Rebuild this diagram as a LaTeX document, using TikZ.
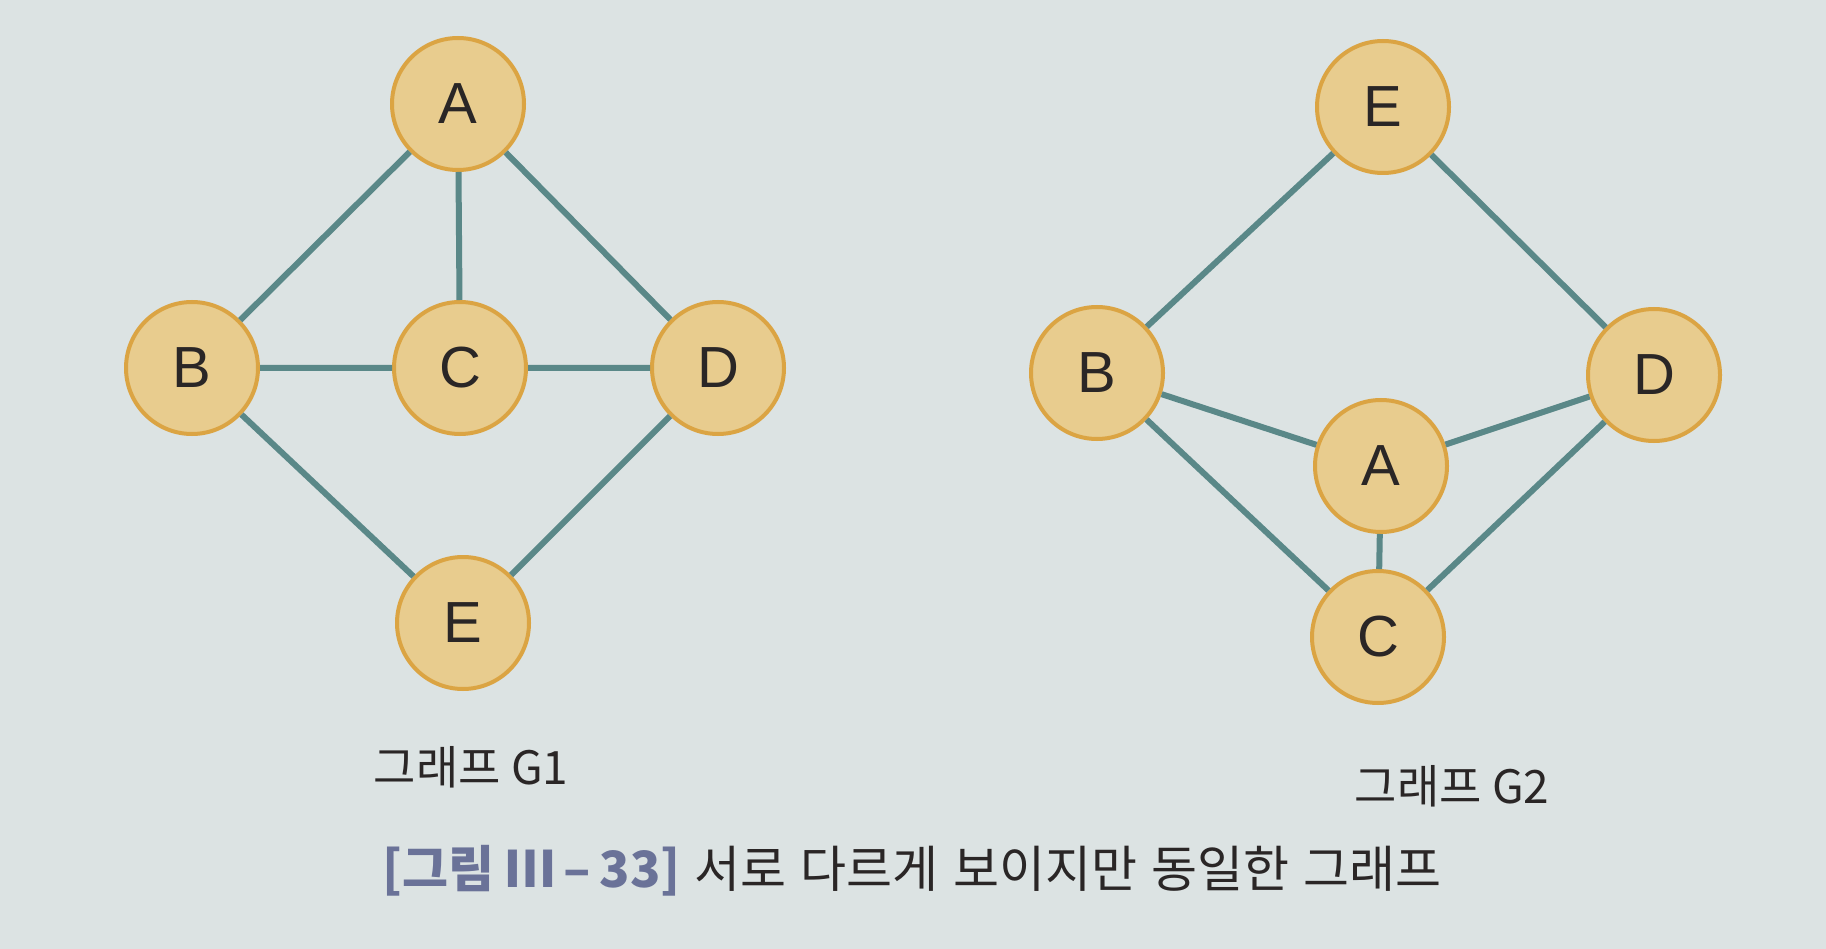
\documentclass[tikz,border=0pt]{standalone}
\usepackage{fontspec}
\setmainfont{Liberation Sans}
\newfontfamily\kr{Noto Sans CJK KR}
\definecolor{bgc}{HTML}{DCE3E3}
\definecolor{nodefill}{HTML}{E8CC8E}
\definecolor{nodeline}{HTML}{DBA443}
\definecolor{edgec}{HTML}{5A8888}
\definecolor{capc}{HTML}{6A7298}
\definecolor{txt}{HTML}{2A2626}
\begin{document}
\begin{tikzpicture}[x=1pt,y=-1pt,
  vtx/.style={circle,fill=nodefill,draw=nodeline,line width=4pt,minimum size=132pt,inner sep=0pt,font=\fontsize{58}{58}\selectfont,text=txt},
  edg/.style={draw=edgec,line width=6pt},
  lbl/.style={font=\kr\fontsize{46}{46}\selectfont,text=txt}]
\fill[bgc] (0,0) rectangle (1826,949);
\useasboundingbox (0,0) rectangle (1826,949);
% G1
\node[vtx] (a1) at (458,104) {A};
\node[vtx] (b1) at (192,368) {B};
\node[vtx] (c1) at (460,368) {C};
\node[vtx] (d1) at (718,368) {D};
\node[vtx] (e1) at (463,623) {E};
% G2
\node[vtx] (e2) at (1383,107) {E};
\node[vtx] (b2) at (1097,373) {B};
\node[vtx] (d2) at (1654,375) {D};
\node[vtx] (a2) at (1381,466) {A};
\node[vtx] (c2) at (1378,637) {C};
% edges G1
\path[edg] (a1) -- (b1) (a1) -- (c1) (a1) -- (d1) (b1) -- (c1) (c1) -- (d1) (b1) -- (e1) (d1) -- (e1);
% edges G2
\path[edg] (e2) -- (b2) (e2) -- (d2) (b2) -- (a2) (a2) -- (d2) (b2) -- (c2) (a2) -- (c2) (c2) -- (d2);
% labels
\node[lbl] (l1) at (471,767) {그래프 G1};
\node[lbl] (l2) at (1452,786) {그래프 G2};
\node[anchor=west,inner sep=0pt,font=\kr\fontsize{50}{50}\selectfont,text=txt] (cap) at (382,871) {{\bfseries\color{capc}[그림 Ⅲ\,–\,33]}\hspace{14pt}서로\hspace{3pt} 다르게\hspace{3pt} 보이지만\hspace{3pt} 동일한\hspace{3pt} 그래프};
\end{tikzpicture}
\end{document}
